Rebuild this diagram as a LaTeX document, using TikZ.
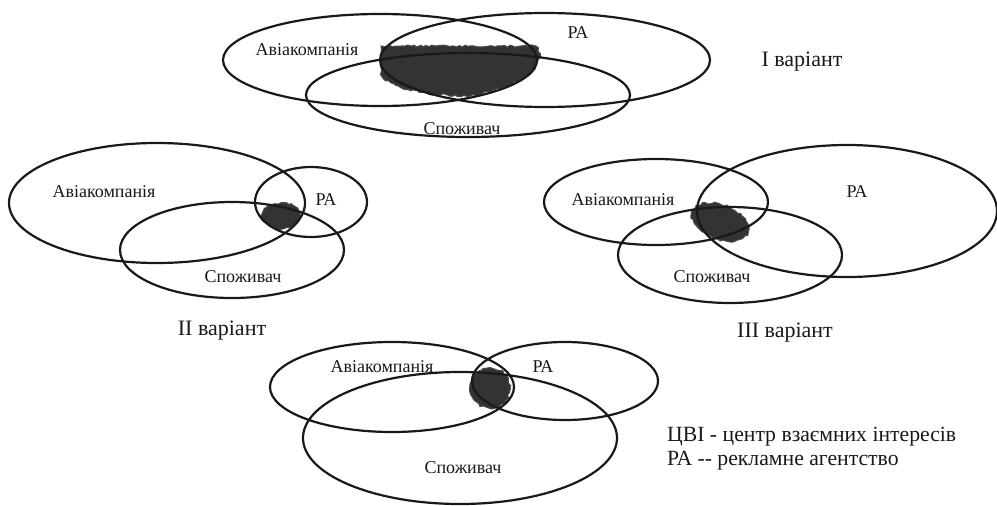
\documentclass[tikz,border=0pt]{standalone}
\usepackage{fontspec}
\setmainfont{Liberation Serif}
\usetikzlibrary{decorations.pathmorphing}
\begin{document}
\begin{tikzpicture}[x=1pt,y=-1pt,
  ring/.style={draw=black!90,line width=2.2pt},
  blob/.style={fill=black!80,draw=black!70,line width=1pt,
     decorate,decoration={random steps,segment length=3pt,amplitude=1.2pt}},
  lbl/.style={font=\fontsize{18}{20}\selectfont,text=black!90,inner sep=0pt},
  title/.style={font=\fontsize{22}{25}\selectfont,text=black!90,inner sep=0pt},
  legend/.style={font=\fontsize{21.7}{24}\selectfont,text=black!90,inner sep=0pt,anchor=west}]
\useasboundingbox (0,0) rectangle (997,506);
\fill[white] (0,0) rectangle (997,506);
% ---------- Variant I ----------
\fill[blob] (381,46) -- (536,46) .. controls (548,60) and (530,86) .. (470,96) .. controls (420,96) and (386,86) .. (381,74) -- cycle;
\draw[ring] (380,60) ellipse [x radius=157pt, y radius=46pt];
\draw[ring] (545,60) ellipse [x radius=165pt, y radius=47pt];
\draw[ring] (468,95) ellipse [x radius=162pt, y radius=42pt];
\node[lbl] (a1) at (307,50) {Авіакомпанія};
\node[lbl] (r1) at (578,33) {РА};
\node[lbl] (s1) at (462,129) {Споживач};
\node[title] (t1) at (802,62) {I варіант};
% ---------- Variant II ----------
\fill[blob] (281,216) ellipse [x radius=19pt, y radius=13pt];
\draw[ring] (157,203) ellipse [x radius=148pt, y radius=60pt];
\draw[ring] (311,202) ellipse [x radius=56pt, y radius=35pt];
\draw[ring] (232,250) ellipse [x radius=112pt, y radius=48pt];
\node[lbl] (a2) at (104,192) {Авіакомпанія};
\node[lbl] (r2) at (326,200) {РА};
\node[lbl] (s2) at (243,277) {Споживач};
\node[title] (t2) at (222,331) {II варіант};
% ---------- Variant III ----------
\fill[blob,rotate around={-20:(720,222)}] (720,222) ellipse [x radius=30pt, y radius=17pt];
\draw[ring] (656,202) ellipse [x radius=112pt, y radius=43pt];
\draw[ring] (847,211) ellipse [x radius=150pt, y radius=66pt];
\draw[ring] (730,255) ellipse [x radius=112pt, y radius=48pt];
\node[lbl] (a3) at (623,200) {Авіакомпанія};
\node[lbl] (r3) at (857,192) {РА};
\node[lbl] (s3) at (712,277) {Споживач};
\node[title] (t3) at (785,333) {III варіант};
% ---------- Variant IV ----------
\fill[blob] (490,388) ellipse [x radius=20pt, y radius=20pt];
\draw[ring] (392,387) ellipse [x radius=122pt, y radius=45pt];
\draw[ring] (565,381) ellipse [x radius=93pt, y radius=39pt];
\draw[ring] (460,438) ellipse [x radius=157pt, y radius=66pt];
\node[lbl] (a4) at (382,367) {Авіакомпанія};
\node[lbl] (r4) at (543,367) {РА};
\node[lbl] (s4) at (463,468) {Споживач};
% ---------- Legend ----------
\node[legend] (l1) at (667,437) {ЦВІ - центр взаємних інтересів};
\node[legend] (l2) at (667,461) {РА -{}- рекламне агентство};
\end{tikzpicture}
\end{document}
